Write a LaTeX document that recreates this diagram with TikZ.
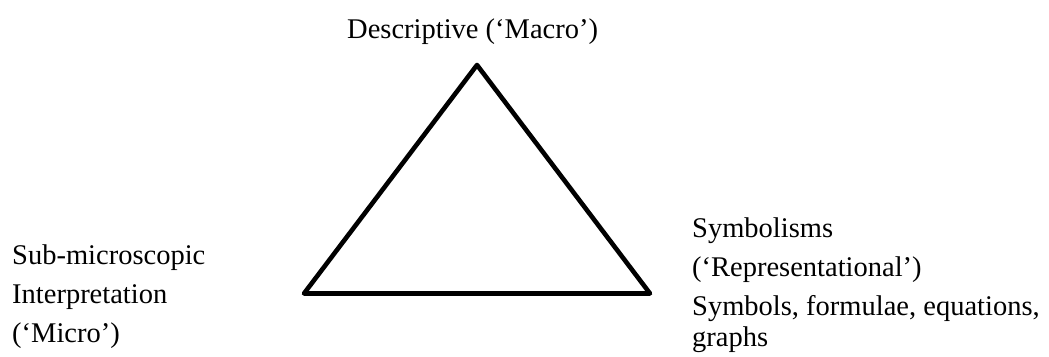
\documentclass[tikz,border=0pt]{standalone}
\usepackage{fontspec}
\setmainfont{Liberation Serif}
\tikzset{
  lbl/.style={anchor=base west, inner sep=0pt, font=\fontsize{28.5}{39.5}\selectfont, text=black},
  tri/.style={draw=black, line width=4.6pt, line join=round}
}
\begin{document}
\begin{tikzpicture}[x=1pt,y=-1pt]
\useasboundingbox (0,0) rectangle (1049,356);
\coordinate (apex) at (477,65);
\coordinate (bl) at (304,293.5);
\coordinate (br) at (650,293.5);
\draw[tri] (apex) -- (bl) -- (br) -- cycle;
\node[lbl] (top) at (347,38) {Descriptive (‘Macro’)};
\node[lbl] (l1) at (12,264) {Sub-microscopic};
\node[lbl] (l2) at (12,303) {Interpretation};
\node[lbl] (l3) at (12,342) {(‘Micro’)};
\node[lbl] (r1) at (692,237) {Symbolisms};
\node[lbl] (r2) at (692,276) {(‘Representational’)};
\node[lbl] (r3) at (692,315) {Symbols, formulae, equations,};
\node[lbl] (r4) at (692,346) {graphs};
\end{tikzpicture}
\end{document}
